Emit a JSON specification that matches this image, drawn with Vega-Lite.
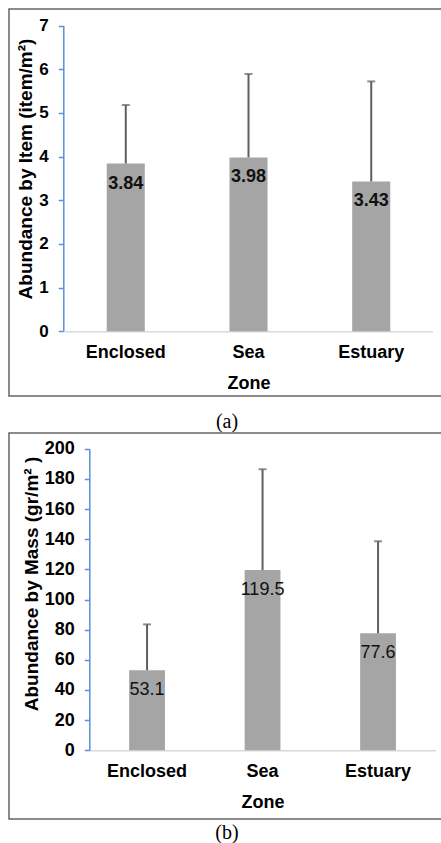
{
  "$schema": "https://vega.github.io/schema/vega-lite/v6.json",
  "padding": {"left": 8, "top": 8, "right": 0, "bottom": 0},
  "spacing": -2,
  "config": {
    "font": "Liberation Sans",
    "view": {"stroke": "#666666", "strokeWidth": 1.5},
    "axis": {"grid": false, "labelColor": "#000000", "titleColor": "#000000", "labelFontWeight": "bold", "titleFontWeight": "bold", "labelFont": "Liberation Sans", "titleFont": "Liberation Sans"}
  },
  "datasets": {
    "a": [
      {"zone": "Enclosed", "mean": 3.84, "upper": 5.18},
      {"zone": "Sea", "mean": 3.98, "upper": 5.89},
      {"zone": "Estuary", "mean": 3.43, "upper": 5.72}
    ],
    "b": [
      {"zone": "Enclosed", "mean": 53.1, "upper": 83.5},
      {"zone": "Sea", "mean": 119.5, "upper": 186.3},
      {"zone": "Estuary", "mean": 77.6, "upper": 138.6}
    ]
  },
  "vconcat": [
    {
      "width": 436,
      "height": 387,
      "title": {"text": "(a)", "orient": "bottom", "anchor": "middle", "font": "Liberation Serif", "fontSize": 20, "fontWeight": "normal", "color": "#000000", "offset": 16},
      "data": {"name": "a"},
      "encoding": {
        "x": {
          "field": "zone", "type": "nominal", "sort": null,
          "scale": {"range": [55.4, 423.6], "paddingInner": 0.69, "paddingOuter": 0.345},
          "axis": {"title": "Zone", "offset": -64.8, "labelAngle": 0, "ticks": false, "domainColor": "#D9D9D9", "domainWidth": 1.5, "labelFontSize": 18, "labelPadding": 12, "titleFontSize": 18, "titlePadding": 13}
        },
        "y": {
          "field": "mean", "type": "quantitative",
          "scale": {"domain": [0, 7], "range": [322.2, 16.5], "nice": false, "zero": true},
          "axis": {"title": "Abundance by Item (item/m²)", "titleY": 159.5, "offset": -54.3, "tickCount": 7, "domainColor": "#5B8FDB", "domainWidth": 1.5, "tickColor": "#5B8FDB", "tickWidth": 1.5, "tickSize": 5, "labelFontSize": 17, "labelPadding": 10, "titleFontSize": 19, "titlePadding": 3}
        }
      },
      "layer": [
        {"mark": {"type": "bar", "color": "#A5A5A5"}},
        {"mark": {"type": "rule", "color": "#5F5F5F", "strokeWidth": 2}, "encoding": {"y2": {"field": "upper"}}},
        {"mark": {"type": "tick", "color": "#5F5F5F", "size": 8, "thickness": 2}, "encoding": {"y": {"field": "upper", "type": "quantitative"}}},
        {"mark": {"type": "text", "fontSize": 18, "fontWeight": "bold", "color": "#111111", "baseline": "middle", "dy": 20}, "encoding": {"text": {"field": "mean", "type": "quantitative", "format": ".2f"}}}
      ]
    },
    {
      "width": 436,
      "height": 386,
      "title": {"text": "(b)", "orient": "bottom", "anchor": "middle", "font": "Liberation Serif", "fontSize": 20, "fontWeight": "normal", "color": "#000000", "offset": 4},
      "data": {"name": "b"},
      "encoding": {
        "x": {
          "field": "zone", "type": "nominal", "sort": null,
          "scale": {"range": [80.3, 426.8], "paddingInner": 0.69, "paddingOuter": 0.345},
          "axis": {"title": "Zone", "offset": -68.7, "labelAngle": 0, "ticks": false, "domainColor": "#D9D9D9", "domainWidth": 1.5, "labelFontSize": 18, "labelPadding": 12, "titleFontSize": 18, "titlePadding": 13}
        },
        "y": {
          "field": "mean", "type": "quantitative",
          "scale": {"domain": [0, 200], "range": [317.3, 15.7], "nice": false, "zero": true},
          "axis": {"title": "Abundance by Mass (gr/m² )", "titleY": 150.5, "offset": -80.3, "tickCount": 10, "domainColor": "#5B8FDB", "domainWidth": 1.5, "tickColor": "#5B8FDB", "tickWidth": 1.5, "tickSize": 5, "labelFontSize": 18, "labelPadding": 10, "titleFontSize": 19, "titlePadding": 3}
        }
      },
      "layer": [
        {"mark": {"type": "bar", "color": "#A5A5A5"}},
        {"mark": {"type": "rule", "color": "#5F5F5F", "strokeWidth": 2}, "encoding": {"y2": {"field": "upper"}}},
        {"mark": {"type": "tick", "color": "#5F5F5F", "size": 8, "thickness": 2}, "encoding": {"y": {"field": "upper", "type": "quantitative"}}},
        {"mark": {"type": "text", "fontSize": 18, "fontWeight": "normal", "color": "#111111", "baseline": "middle", "dy": 20}, "encoding": {"text": {"field": "mean", "type": "quantitative", "format": ".1f"}}}
      ]
    }
  ]
}
